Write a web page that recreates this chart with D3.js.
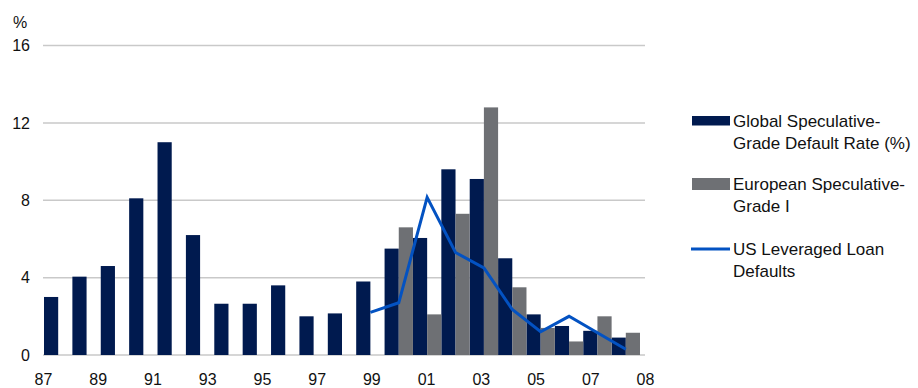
<!DOCTYPE html>
<html>
<head>
  <meta charset="utf-8">
  <title>Speculative-grade default rates</title>
  <script src="https://cdn.jsdelivr.net/npm/d3@7"></script>
  <style>
    html, body { margin: 0; padding: 0; background: #fff; }
    svg { display: block; font-family: "Liberation Sans", Arial, sans-serif; }
  </style>
</head>
<body>
  <svg id="chart" width="918" height="388"></svg>
  <script>
    // data
    let years = [1987, 1988, 1989, 1990, 1991, 1992, 1993, 1994, 1995, 1996, 1997,
                 1998, 1999, 2000, 2001, 2002, 2003, 2004, 2005, 2006, 2007]
    let globalRate = [3.0, 4.05, 4.6, 8.1, 11.0, 6.2, 2.65, 2.65, 3.6, 2.0, 2.15,
                      3.8, 5.5, 6.05, 9.6, 9.1, 5.0, 2.1, 1.5, 1.25, 0.9]
    let europeRate = [null, null, null, null, null, null, null, null, null, null, null,
                      null, 6.6, 2.1, 7.3, 12.8, 3.5, 1.4, 0.7, 2.0, 1.15]
    let usLoans = [null, null, null, null, null, null, null, null, null, null, null,
                   2.2, 2.7, 8.15, 5.3, 4.5, 2.35, 1.2, 2.0, 1.15, 0.3]
    let tickLabels = ['87', '89', '91', '93', '95', '97', '99', '01', '03', '05', '07', '08']
    let yTicks = [0, 4, 8, 12, 16]
    let seriesNames = ['Global Speculative-|Grade Default Rate (%)', 'European Speculative-|Grade I', 'US Leveraged Loan|Defaults']

    let colorGlobal = '#001a4f'
    let colorEurope = '#6e7074'
    let colorLine = '#0352c2'
    let colorGrid = '#c9c9c9'

    let svg = d3.select('#chart')

    let x = d3.scaleBand().domain(years).range([44, 640]).padding(0)
    let xSub = d3.scaleBand().domain(['global', 'europe']).range([0, x.bandwidth()])
    let xLabel = d3.scaleLinear().domain([0, 22]).range([43, 645])
    let y = d3.scaleLinear().domain([0, 16]).range([355, 45.5])

    // grid
    svg.append('g')
      .selectAll('line')
      .data(yTicks)
      .join('line')
      .attr('x1', 43).attr('x2', 645)
      .attr('y1', d => y(d)).attr('y2', d => y(d))
      .attr('stroke', colorGrid)
      .attr('stroke-width', 1.5)

    // y labels
    let yAxis = svg.append('g')
      .attr('transform', 'translate(30,0)')
      .call(d3.axisLeft(y).tickValues(yTicks).tickSize(0).tickPadding(0))
    yAxis.select('.domain').remove()
    yAxis.selectAll('text')
      .attr('font-size', 16).attr('font-family', 'Liberation Sans, Arial, sans-serif')
      .attr('fill', '#111')

    svg.append('text')
      .attr('x', 13).attr('y', 22)
      .attr('dominant-baseline', 'central')
      .attr('font-size', 16).attr('fill', '#111')
      .text('%')

    // x labels
    let xAxis = svg.append('g')
      .attr('transform', 'translate(0,374)')
      .call(d3.axisBottom(xLabel)
        .tickValues(d3.range(0, 23, 2))
        .tickFormat((d, i) => tickLabels[i])
        .tickSize(0).tickPadding(0))
    xAxis.select('.domain').remove()
    xAxis.selectAll('text')
      .attr('font-size', 16).attr('font-family', 'Liberation Sans, Arial, sans-serif')
      .attr('fill', '#111')

    // bars
    let rows = years.map((yr, i) => ({ yr, global: globalRate[i], europe: europeRate[i], us: usLoans[i] }))

    svg.append('g')
      .selectAll('rect')
      .data(rows)
      .join('rect')
      .attr('x', d => x(d.yr) + xSub('global'))
      .attr('width', xSub.bandwidth())
      .attr('y', d => y(d.global))
      .attr('height', d => y(0) - y(d.global))
      .attr('fill', colorGlobal)

    svg.append('g')
      .selectAll('rect')
      .data(rows.filter(d => d.europe != null))
      .join('rect')
      .attr('x', d => x(d.yr) + xSub('europe'))
      .attr('width', xSub.bandwidth())
      .attr('y', d => y(d.europe))
      .attr('height', d => y(0) - y(d.europe))
      .attr('fill', colorEurope)

    // line
    let line = d3.line()
      .defined(d => d.us != null)
      .x(d => x(d.yr) + x.bandwidth() / 2)
      .y(d => y(d.us))

    svg.append('path')
      .datum(rows)
      .attr('d', line)
      .attr('fill', 'none')
      .attr('stroke', colorLine)
      .attr('stroke-width', 3)
      .attr('stroke-linejoin', 'miter')

    // legend
    let legendY = [121, 184, 249]
    let legend = svg.append('g')
    seriesNames.forEach((name, i) => {
      let g = legend.append('g').attr('transform', `translate(0,${legendY[i]})`)
      if (i < 2) {
        g.append('rect')
          .attr('x', 692).attr('y', i === 0 ? -5 : -6)
          .attr('width', 38).attr('height', i === 0 ? 9.5 : 12)
          .attr('fill', i === 0 ? colorGlobal : colorEurope)
      } else {
        g.append('line')
          .attr('x1', 691).attr('x2', 730)
          .attr('y1', 0).attr('y2', 0)
          .attr('stroke', colorLine).attr('stroke-width', 3)
      }
      name.split('|').forEach((t, j) => {
        g.append('text')
          .attr('x', 733).attr('y', j * 22.5)
          .attr('dominant-baseline', 'central')
          .attr('font-size', 17).attr('fill', '#111')
          .text(t)
      })
    })
  </script>
</body>
</html>
